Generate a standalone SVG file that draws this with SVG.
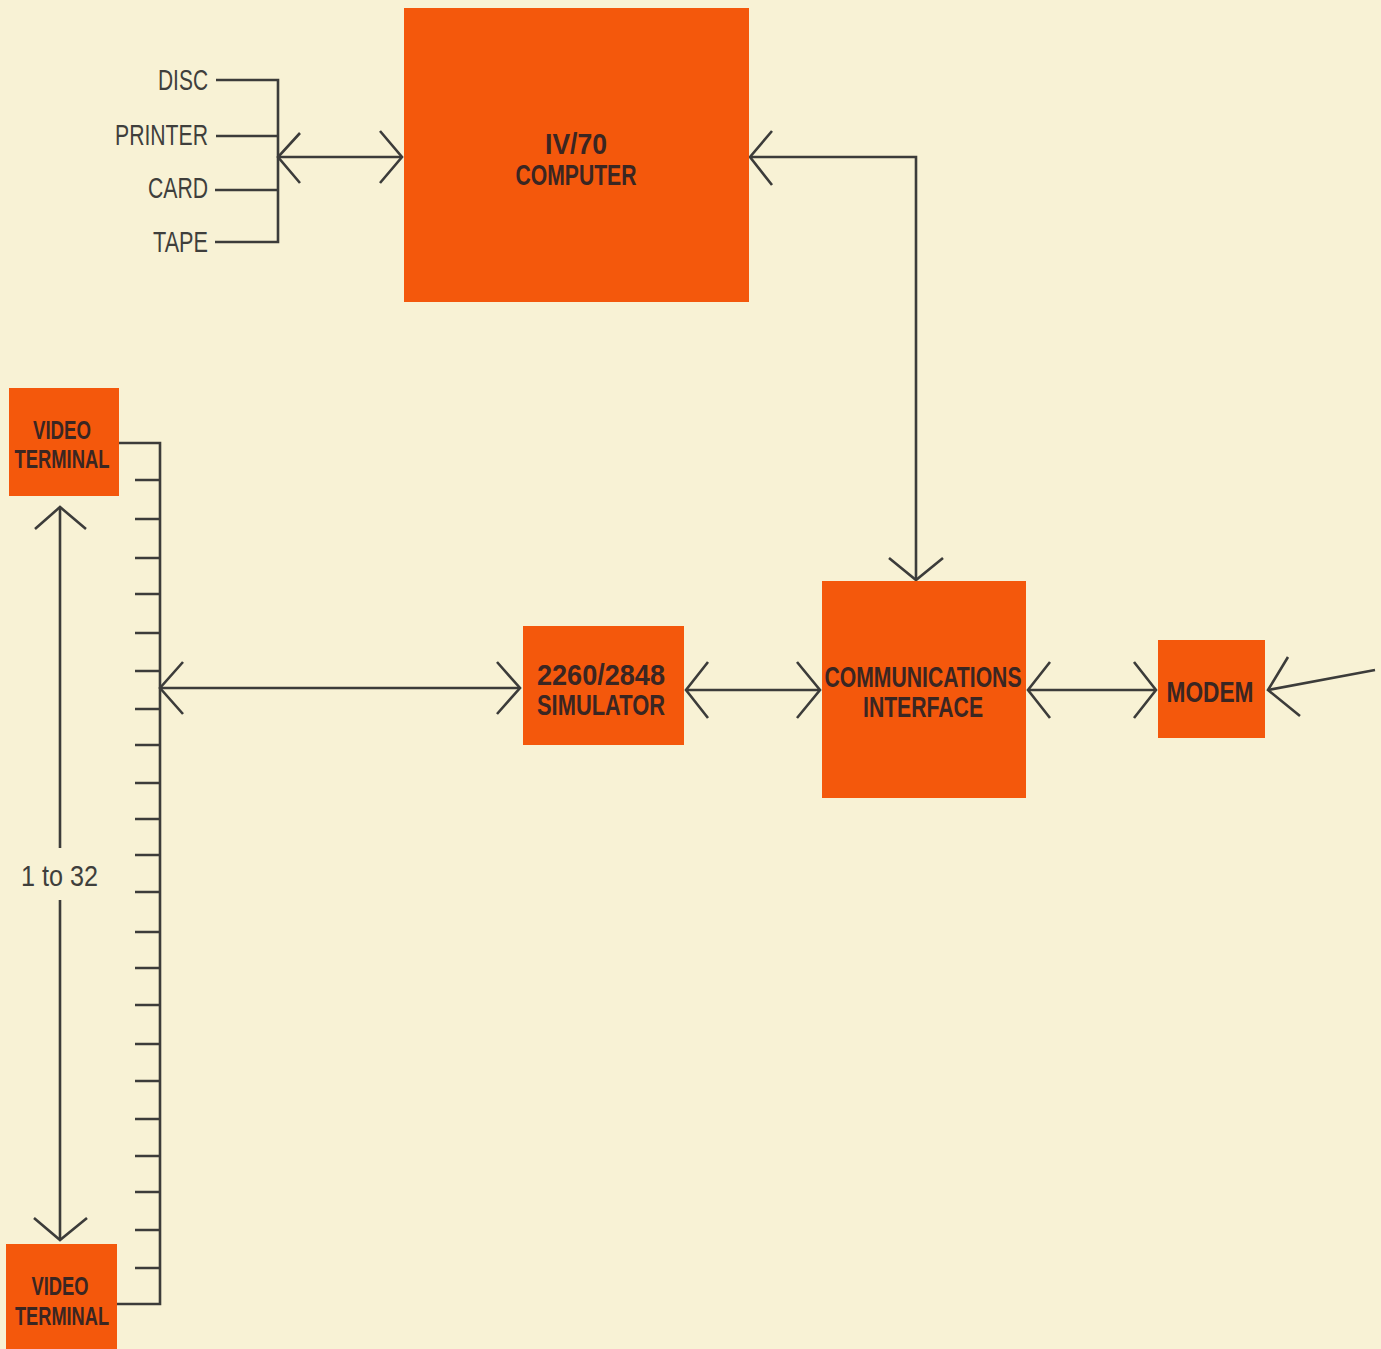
<svg xmlns="http://www.w3.org/2000/svg" width="1381" height="1349" viewBox="0 0 1381 1349">
<style>
.bg{fill:#f8f2d5}
.box{fill:#f4580c}
.ln{fill:none;stroke:#3c3c3a;stroke-width:2.6;stroke-linejoin:miter;stroke-linecap:butt}
.bt{font-family:"Liberation Sans",Arial,sans-serif;font-weight:bold;font-size:29px;fill:#3a2622;text-anchor:middle}
.vt{font-size:25px}
.lt{font-family:"Liberation Sans",Arial,sans-serif;font-size:29px;fill:#3f3f3c}
</style>
<rect class="bg" x="0" y="0" width="1381" height="1349"/>

<g id="connectors">
  <path class="ln" d="M216 80H278V242H215M216 136H278M215 190H278"/>
  <path class="ln" d="M278 157H402"/>
  <polyline class="ln" points="300,133 278,157 300,183"/>
  <polyline class="ln" points="380,131 402,157 380,183"/>
  <path class="ln" d="M750 157H916V580"/>
  <polyline class="ln" points="772,131 750,157 772,185"/>
  <polyline class="ln" points="889,558 916,580 943,558"/>
  <path class="ln" d="M119 443H160V1304H117"/>
  <path class="ln" d="M135 480H160M135 519H160M135 558H160M135 594H160M135 633H160M135 671H160M135 709H160M135 745H160M135 783H160M135 819H160M135 855H160M135 892H160M135 932H160M135 968H160M135 1005H160M135 1044H160M135 1081H160M135 1119H160M135 1156H160M135 1192H160M135 1230H160M135 1268H160"/>
  <path class="ln" d="M160 688H520"/>
  <polyline class="ln" points="183,662 160,688 183,714"/>
  <polyline class="ln" points="497,662 520,688 497,714"/>
  <path class="ln" d="M686 690H820"/>
  <polyline class="ln" points="708,662 686,690 708,718"/>
  <polyline class="ln" points="797,662 820,690 797,718"/>
  <path class="ln" d="M1028 690H1156"/>
  <polyline class="ln" points="1050,662 1028,690 1050,718"/>
  <polyline class="ln" points="1134,662 1156,690 1134,718"/>
  <path class="ln" d="M1375 670L1268 690"/>
  <polyline class="ln" points="1288,657 1268,690 1300,716"/>
  <path class="ln" d="M60 507V848M60 900V1240"/>
  <polyline class="ln" points="35,529 60,507 86,529"/>
  <polyline class="ln" points="34,1218 60,1240 87,1218"/>
</g>

<g id="peripheral-labels">
  <text class="lt" x="208" y="90" text-anchor="end" textLength="50" lengthAdjust="spacingAndGlyphs">DISC</text>
  <text class="lt" x="208" y="145" text-anchor="end" textLength="93" lengthAdjust="spacingAndGlyphs">PRINTER</text>
  <text class="lt" x="208" y="198" text-anchor="end" textLength="60" lengthAdjust="spacingAndGlyphs">CARD</text>
  <text class="lt" x="208" y="252" text-anchor="end" textLength="55" lengthAdjust="spacingAndGlyphs">TAPE</text>
</g>

<g id="count-label">
  <text class="lt" x="21" y="886" textLength="77" lengthAdjust="spacingAndGlyphs">1 to 32</text>
</g>

<g id="computer">
  <rect class="box" x="404" y="8" width="345" height="294"/>
  <text class="bt" x="576" y="154" textLength="62" lengthAdjust="spacingAndGlyphs">IV/70</text>
  <text class="bt" x="576" y="185" textLength="121" lengthAdjust="spacingAndGlyphs">COMPUTER</text>
</g>

<g id="video-terminal-top">
  <rect class="box" x="9" y="388" width="110" height="108"/>
  <text class="bt vt" x="62" y="439" textLength="58" lengthAdjust="spacingAndGlyphs">VIDEO</text>
  <text class="bt vt" x="62" y="468" textLength="95" lengthAdjust="spacingAndGlyphs">TERMINAL</text>
</g>

<g id="video-terminal-bottom">
  <rect class="box" x="6" y="1244" width="111" height="105"/>
  <text class="bt vt" x="60" y="1295" textLength="57" lengthAdjust="spacingAndGlyphs">VIDEO</text>
  <text class="bt vt" x="62" y="1325" textLength="94" lengthAdjust="spacingAndGlyphs">TERMINAL</text>
</g>

<g id="simulator">
  <rect class="box" x="523" y="626" width="161" height="119"/>
  <text class="bt" x="601" y="685" textLength="128" lengthAdjust="spacingAndGlyphs">2260/2848</text>
  <text class="bt" x="601" y="715" textLength="128" lengthAdjust="spacingAndGlyphs">SIMULATOR</text>
</g>

<g id="communications-interface">
  <rect class="box" x="822" y="581" width="204" height="217"/>
  <text class="bt" x="923" y="687" textLength="197" lengthAdjust="spacingAndGlyphs">COMMUNICATIONS</text>
  <text class="bt" x="923" y="717" textLength="120" lengthAdjust="spacingAndGlyphs">INTERFACE</text>
</g>

<g id="modem">
  <rect class="box" x="1158" y="640" width="107" height="98"/>
  <text class="bt" x="1210" y="702" textLength="87" lengthAdjust="spacingAndGlyphs">MODEM</text>
</g>
</svg>
